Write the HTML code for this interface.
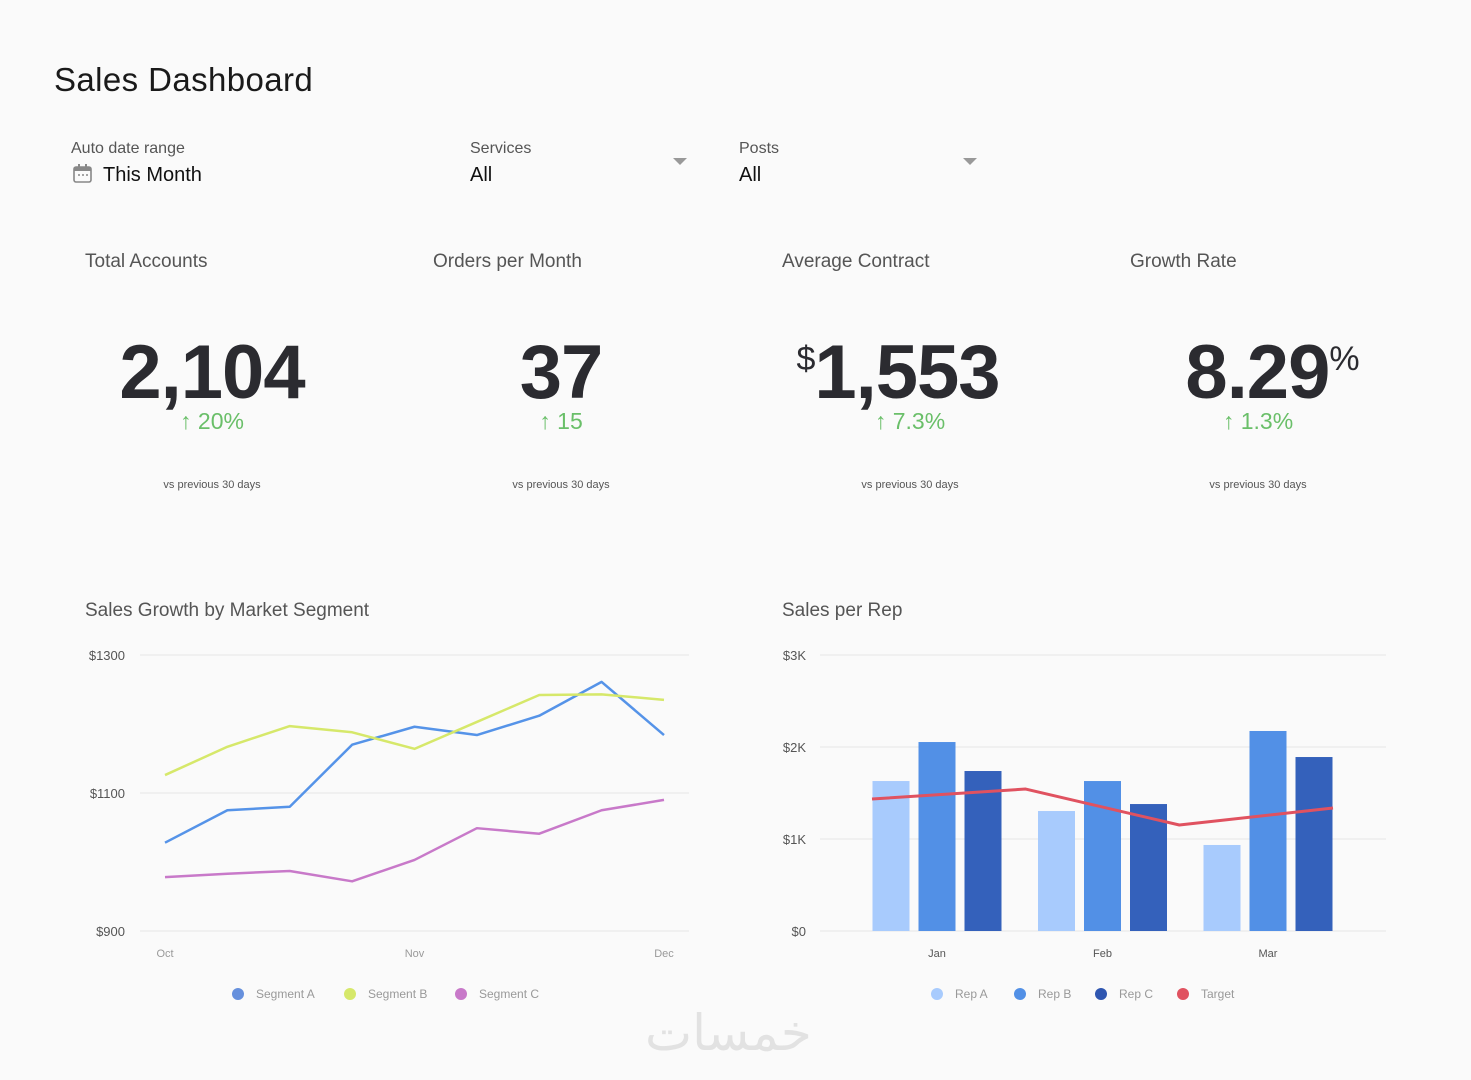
<!DOCTYPE html>
<html><head><meta charset="utf-8">
<style>
*{margin:0;padding:0;box-sizing:border-box}
body{width:1471px;height:1080px;background:#fafafa;font-family:"Liberation Sans",sans-serif;position:relative;overflow:hidden;color:#333}
.a{position:absolute;white-space:nowrap}
.lbl{font-size:16px;color:#555}
.val{font-size:20px;color:#111}
.kt{font-size:19px;color:#555;top:251px}
.big{font-size:76px;font-weight:bold;color:#2b2b30;top:329px;transform:translateX(-50%);letter-spacing:-1px}
.chg{font-size:23px;color:#6abf69;top:408px;transform:translateX(-50%)}
.vs{font-size:11px;color:#555;top:479px;transform:translateX(-50%)}
.caret{width:0;height:0;border-left:7px solid transparent;border-right:7px solid transparent;border-top:7px solid #999}
</style></head><body>
<div class="a" style="left:54px;top:61px;font-size:33px;color:#1a1a1a;letter-spacing:0.4px">Sales Dashboard</div>

<div>
<div class="a lbl" style="left:71px;top:140px">Auto date range</div>
<svg class="a" style="left:73px;top:164px" width="20" height="19"><rect x="1" y="3" width="17" height="15" rx="2" fill="none" stroke="#888" stroke-width="1.6"/><rect x="1" y="3" width="17" height="4" fill="#888"/><rect x="5" y="0" width="2" height="5" fill="#888"/><rect x="12" y="0" width="2" height="5" fill="#888"/><circle cx="6" cy="11" r="1" fill="#888"/><circle cx="10" cy="11" r="1" fill="#888"/><circle cx="14" cy="11" r="1" fill="#888"/></svg>
<div class="a val" style="left:103px;top:164px">This Month</div>
</div>
<div>
<div class="a lbl" style="left:470px;top:140px">Services</div>
<div class="a val" style="left:470px;top:164px">All</div>
<div class="a caret" style="left:673px;top:158px"></div>
</div>
<div>
<div class="a lbl" style="left:739px;top:140px">Posts</div>
<div class="a val" style="left:739px;top:164px">All</div>
<div class="a caret" style="left:963px;top:158px"></div>
</div>

<div class="a kt" style="left:85px">Total Accounts</div>
<div class="a big" style="left:212px">2,104</div>
<div class="a chg" style="left:212px">↑ 20%</div>
<div class="a vs" style="left:212px">vs previous 30 days</div>

<div class="a kt" style="left:433px">Orders per Month</div>
<div class="a big" style="left:561px">37</div>
<div class="a chg" style="left:561px">↑ 15</div>
<div class="a vs" style="left:561px">vs previous 30 days</div>

<div class="a kt" style="left:782px">Average Contract</div>
<div class="a big" style="left:898px"><span style="font-size:34px;vertical-align:28px;font-weight:normal">$</span>1,553</div>
<div class="a chg" style="left:910px">↑ 7.3%</div>
<div class="a vs" style="left:910px">vs previous 30 days</div>

<div class="a kt" style="left:1130px">Growth Rate</div>
<div class="a big" style="left:1272px">8.29<span style="font-size:34px;vertical-align:28px;font-weight:normal">%</span></div>
<div class="a chg" style="left:1258px">↑ 1.3%</div>
<div class="a vs" style="left:1258px">vs previous 30 days</div>

<div class="a" style="left:85px;top:600px;font-size:19px;color:#555">Sales Growth by Market Segment</div>
<div class="a" style="left:782px;top:600px;font-size:19px;color:#555">Sales per Rep</div>

<svg class="a" id="charts" style="left:0;top:0" width="1471" height="1080"></svg>
<div class="a" style="left:645px;top:1004px;font-size:50px;color:#e2e2e2;font-family:'DejaVu Sans',sans-serif">خمسات</div>

<script>
const lineCats=["Oct","","","","Nov","","","","Dec"];
const segA=[1028,1075,1080,1170,1196,1184,1212,1261,1184];
const segB=[1126,1167,1197,1188,1164,1203,1242,1243,1235];
const segC=[978,983,987,972,1003,1049,1041,1075,1090];
const lineTicks=[900,1100,1300];
const barCats=["Jan","Feb","Mar"];
const repA=[1630,1304,935];
const repB=[2054,1630,2174];
const repC=[1739,1380,1891];
const target=[1435,1543,1152,1337];
const barTicks=[0,1000,2000,3000];
const barTickLabels=["$0","$1K","$2K","$3K"];

const NS="http://www.w3.org/2000/svg";
const svg=document.getElementById('charts');
function mk(tag,attrs,parent){const e=document.createElementNS(NS,tag);for(const k in attrs)e.setAttribute(k,attrs[k]);(parent||svg).appendChild(e);return e;}
function txt(x,y,s,anchor,size,fill){const t=mk('text',{x:x,y:y,'text-anchor':anchor,'font-size':size,fill:fill,'font-family':'Liberation Sans, sans-serif'});t.textContent=s;return t;}

const ly=v=>931-(v-900)*(276/400);
const lx=i=>165+i*(499/8);
lineTicks.forEach(v=>{
 const g=mk('line',{x1:140,x2:689,y1:ly(v),y2:ly(v),stroke:'#e6e6e6','stroke-width':1});
 
 
 const t=txt(125,ly(v)+5,'$'+v,'end',13,'#555');
 
 
});
lineCats.forEach((c,i)=>{if(!c)return;
 const t=txt(lx(i),957,c,'middle',11,'#999');
 
 
});
[[segA,'#5593e8','segment-a-line'],[segB,'#d6e86a','segment-b-line'],[segC,'#c879c9','segment-c-line']].forEach(([d,col,n])=>{
 const p=mk('polyline',{points:d.map((v,i)=>lx(i)+','+ly(v)).join(' '),fill:'none',stroke:col,'stroke-width':2.5,'stroke-linejoin':'round'});
 
 
});
[['Segment A','#6690dd',238],['Segment B','#d6e86a',350],['Segment C','#c879c9',461]].forEach(([n,c,x])=>{
 const g=mk('g',{});
 
 
 mk('circle',{cx:x,cy:994,r:6,fill:c},g);
 const t=txt(x+18,998,n,'start',12,'#999');g.appendChild(t);
});

const by=v=>931-v*(276/3000);
const bx=i=>937+i*165.5;
barTicks.forEach((v,k)=>{
 const g=mk('line',{x1:820,x2:1386,y1:by(v),y2:by(v),stroke:'#e6e6e6','stroke-width':1});
 
 
 const t=txt(806,by(v)+5,barTickLabels[k],'end',13,'#555');
 
 
});
const bw=37,bstep=46;
[[repA,'#a8cbfd','rep-a'],[repB,'#5290e6','rep-b'],[repC,'#3461bb','rep-c']].forEach(([d,col,n],s)=>{
 d.forEach((v,i)=>{
  const r=mk('rect',{x:bx(i)+(s-1)*bstep-bw/2,y:by(v),width:bw,height:by(0)-by(v),fill:col});
  
  
 });
});
barCats.forEach((c,i)=>{
 const t=txt(bx(i),957,c,'middle',11,'#555');
 
 
});
const tx=i=>872+i*(461/(target.length-1));
const tl=mk('polyline',{points:target.map((v,i)=>tx(i)+','+by(v)).join(' '),fill:'none',stroke:'#e05260','stroke-width':3,'stroke-linejoin':'round'});


[['Rep A','#a8cbfd',937],['Rep B','#5290e6',1020],['Rep C','#2f56b0',1101],['Target','#e05260',1183]].forEach(([n,c,x])=>{
 const g=mk('g',{});
 
 
 mk('circle',{cx:x,cy:994,r:6,fill:c},g);
 const t=txt(x+18,998,n,'start',12,'#999');g.appendChild(t);
});
</script>
</body></html>
